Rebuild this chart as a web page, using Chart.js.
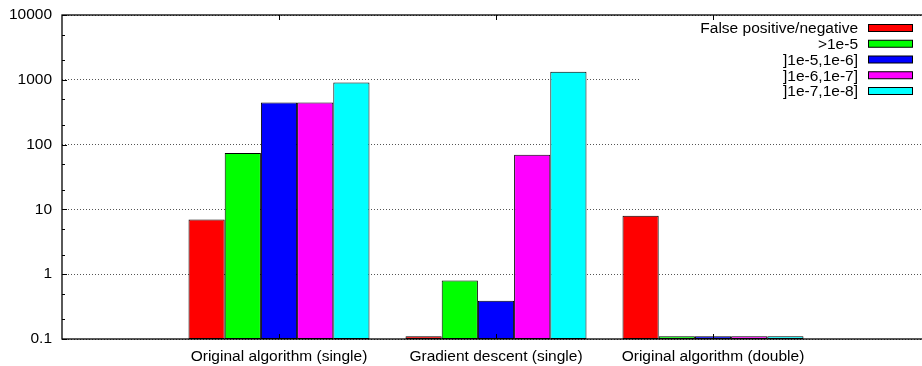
<!DOCTYPE html>
<html>
<head>
<meta charset="utf-8">
<script src="https://cdn.jsdelivr.net/npm/chart.js@4.4.0/dist/chart.umd.min.js"></script>
<style>
  html, body { margin: 0; padding: 0; background: #fff; overflow: hidden; }
  canvas { display: block; }
</style>
</head>
<body>
<canvas id="barGraph" width="930" height="366"></canvas>
<script>
// categories (blank ones pad the x range like gnuplot's [-1:3])
const categories = ['', 'Original algorithm (single)', 'Gradient descent (single)', 'Original algorithm (double)', ''];
const seriesNames = ['False positive/negative', '>1e-5', ']1e-5,1e-6]', ']1e-6,1e-7]', ']1e-7,1e-8]'];
const seriesColors = ['#ff0000', '#00ff00', '#0000ff', '#ff00ff', '#00ffff'];

const falsePosNeg = [null, 7, 0.11, 8, null];
const above1e5 = [null, 74, 0.8, 0.11, null];
const range5to6 = [null, 445, 0.39, 0.11, null];
const range6to7 = [null, 445, 70, 0.11, null];
const range7to8 = [null, 910, 1330, 0.11, null];
const seriesValues = [falsePosNeg, above1e5, range5to6, range6to7, range7to8];

const yTickValues = [0.1, 1, 10, 100, 1000, 10000];
const yMinorFactors = [2, 5];

const FONT = 'Liberation Sans, Arial, Helvetica, sans-serif';
const FONT_SIZE = 15.5;

// gnuplot style frame, inward ticks and the opaque key
const framePlugin = {
  id: 'frame',
  afterDatasetsDraw(chart) {
    const ctx = chart.ctx;
    const a = chart.chartArea;
    const x = chart.scales.x, y = chart.scales.y;
    ctx.save();

    // key background + key
    ctx.fillStyle = '#fff';
    ctx.fillRect(640, a.top + 1, a.right - 640, 85);
    ctx.font = FONT_SIZE + 'px ' + FONT;
    ctx.textAlign = 'right';
    ctx.textBaseline = 'middle';
    chart.data.datasets.forEach((ds, i) => {
      const cy = 28 + i * 15.75;
      ctx.fillStyle = '#000';
      ctx.fillText(ds.label, 858, cy + 1);
      ctx.fillStyle = ds.backgroundColor;
      ctx.fillRect(868, cy - 3.5, 44, 7);
      ctx.strokeStyle = '#000';
      ctx.lineWidth = 1;
      ctx.strokeRect(868.5, cy - 3.5, 44, 7);
    });

    // border
    ctx.strokeStyle = '#000';
    ctx.lineWidth = 1.3;
    ctx.strokeRect(a.left, a.top, a.right - a.left, a.bottom - a.top);

    // y ticks
    ctx.lineWidth = 1;
    ctx.beginPath();
    yTickValues.forEach(v => {
      const py = Math.round(y.getPixelForValue(v)) + 0.5;
      ctx.moveTo(a.left, py); ctx.lineTo(a.left + 5, py);
      yMinorFactors.forEach(f => {
        const mv = v * f;
        if (mv < 10000) {
          const my = Math.round(y.getPixelForValue(mv)) + 0.5;
          ctx.moveTo(a.left, my); ctx.lineTo(a.left + 3, my);
        }
      });
    });
    // x ticks, bottom and top
    for (let i = 1; i < categories.length - 1; i++) {
      const px = Math.round(x.getPixelForValue(i)) + 0.5;
      ctx.moveTo(px, a.bottom); ctx.lineTo(px, a.bottom - 5);
      ctx.moveTo(px, a.top); ctx.lineTo(px, a.top + 5);
    }
    ctx.stroke();
    ctx.restore();
  }
};

const ctx = document.getElementById('barGraph').getContext('2d');
const barGraph = new Chart(ctx, {
  type: 'bar',
  data: {
    labels: categories,
    datasets: seriesNames.map((name, i) => ({
      label: name,
      data: seriesValues[i],
      backgroundColor: seriesColors[i],
      borderColor: '#000',
      borderWidth: 1,
      borderSkipped: false,
      categoryPercentage: 0.834,
      barPercentage: 1
    }))
  },
  options: {
    responsive: false,
    animation: false,
    layout: { padding: { top: 15, right: 0, left: 0, bottom: 0 } },
    plugins: {
      legend: { display: false },
      tooltip: { enabled: false }
    },
    scales: {
      x: {
        offset: false,
        grid: { display: false, drawTicks: false },
        border: { display: false },
        ticks: {
          color: '#000',
          font: { family: FONT, size: FONT_SIZE },
          padding: 8,
          maxRotation: 0,
          autoSkip: false
        },
        afterFit: scale => {
          scale.height = 27;
          scale.paddingLeft = 0;
          scale.paddingRight = 0;
        }
      },
      y: {
        type: 'logarithmic',
        min: 0.1,
        max: 10000,
        afterBuildTicks: scale => { scale.ticks = yTickValues.map(v => ({ value: v })); },
        grid: { color: '#555', lineWidth: 1, drawTicks: false },
        border: { display: false, dash: [1, 2] },
        ticks: {
          color: '#000',
          font: { family: FONT, size: FONT_SIZE },
          padding: 10,
          callback: v => String(v)
        },
        afterFit: scale => {
          scale.width = 62;
          scale.paddingTop = 0;
          scale.paddingBottom = 0;
        }
      }
    }
  },
  plugins: [framePlugin]
});
</script>
</body>
</html>
